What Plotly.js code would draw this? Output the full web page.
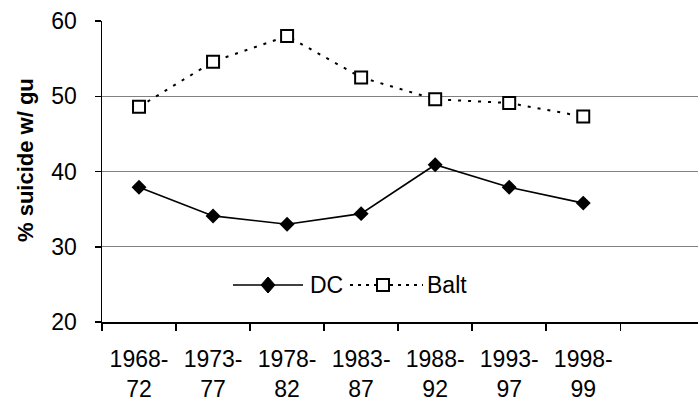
<!DOCTYPE html>
<html>
<head>
<meta charset="utf-8">
<script src="https://cdn.plot.ly/plotly-3.0.1.min.js"></script>
<style>html,body{margin:0;padding:0;background:#fff;}#chart{width:698px;height:408px;}</style>
</head>
<body>
<div id="chart"></div>
<script>
// ---- data ----
const periods = ["1968-<br>72", "1973-<br>77", "1978-<br>82", "1983-<br>87", "1988-<br>92", "1993-<br>97", "1998-<br>99"];
const dcValues = [37.9, 34.1, 33.0, 34.4, 40.9, 37.9, 35.8];
const baltValues = [48.6, 54.6, 58.0, 52.5, 49.6, 49.1, 47.3];
const seriesNames = ["DC", "Balt"];
const yTicks = [20, 30, 40, 50, 60];
const yTitle = "% suicide w/ gu";

// ---- layout helpers ----
const idx = periods.map((_, i) => i);
const boundaries = periods.concat([""]).map((_, i) => i - 0.5);
const xRange = [-0.5, 7.55];
const FONT = "Liberation Sans, Arial, sans-serif";

const traces = [
  {
    x: idx, y: dcValues, name: seriesNames[0], type: "scatter", mode: "lines+markers",
    line: {color: "#000", width: 1.6},
    marker: {symbol: "diamond", size: 11.5, color: "#000"},
    showlegend: false, hoverinfo: "skip"
  },
  {
    x: idx, y: baltValues, name: seriesNames[1], type: "scatter", mode: "lines+markers",
    line: {color: "#000", width: 2, dash: "3px,7px"},
    marker: {symbol: "square", size: 12, color: "#fff", line: {color: "#000", width: 2}},
    showlegend: false, hoverinfo: "skip"
  },
  { x: [], y: [], xaxis: "x2", yaxis: "y", showlegend: false, hoverinfo: "skip" }
];

// manual legend (paper coords)
const px = v => (v - 102) / 596;
const py = v => (322 - v) / 301;
const legY = py(285);
const shapes = [
  {type: "line", xref: "paper", yref: "paper", x0: px(233), x1: px(303), y0: legY, y1: legY, line: {color: "#000", width: 1.6}},
  {type: "path", xref: "paper", yref: "paper",
   path: `M ${px(268 - 7)} ${legY} L ${px(268)} ${py(285 - 8)} L ${px(268 + 7)} ${legY} L ${px(268)} ${py(285 + 8)} Z`,
   fillcolor: "#000", line: {color: "#000", width: 1}},
  {type: "line", xref: "paper", yref: "paper", x0: px(350), x1: px(423), y0: legY, y1: legY, line: {color: "#000", width: 2, dash: "3px,5px"}},
  {type: "rect", xref: "paper", yref: "paper", x0: px(383 - 6), x1: px(383 + 6), y0: py(285 + 6), y1: py(285 - 6),
   fillcolor: "#fff", line: {color: "#000", width: 2}}
];

const annotations = [
  {text: seriesNames[0], xref: "paper", yref: "paper", x: px(308), y: legY, xanchor: "left", yanchor: "middle", showarrow: false,
   font: {family: FONT, size: 23, color: "#000"}},
  {text: seriesNames[1], xref: "paper", yref: "paper", x: px(425), y: legY, xanchor: "left", yanchor: "middle", showarrow: false,
   font: {family: FONT, size: 23, color: "#000"}},
  {text: "<b>" + yTitle + "</b>", xref: "paper", yref: "paper", x: px(25), y: py(160), xanchor: "center", yanchor: "middle",
   textangle: -90, showarrow: false, font: {family: FONT, size: 22, color: "#000"}}
];

const layout = {
  width: 698, height: 408,
  margin: {l: 102, r: 0, t: 21, b: 86, pad: 0},
  paper_bgcolor: "#fff", plot_bgcolor: "#fff",
  font: {family: FONT, size: 23, color: "#000"},
  showlegend: false,
  xaxis: {
    type: "linear", range: xRange, tickvals: idx, ticktext: periods, ticks: "",
    showgrid: false, zeroline: false, showline: true, linecolor: "#000", linewidth: 2,
    tickfont: {family: FONT, size: 23, color: "#000"}, ticklabelstandoff: 15
  },
  xaxis2: {
    type: "linear", overlaying: "x", anchor: "y", side: "bottom", range: xRange,
    tickvals: boundaries, showticklabels: false, ticks: "outside", ticklen: 8, tickwidth: 1.5, tickcolor: "#000",
    showgrid: false, zeroline: false, showline: false
  },
  yaxis: {
    range: [20, 60], tickvals: yTicks, ticks: "outside", ticklen: 6, tickwidth: 1.5, tickcolor: "#000",
    showgrid: true, gridcolor: "#808080", gridwidth: 1, zeroline: false,
    showline: true, linecolor: "#000", linewidth: 1.5,
    tickfont: {family: FONT, size: 23, color: "#000"}, ticklabelstandoff: 13
  },
  shapes: shapes,
  annotations: annotations
};

Plotly.newPlot("chart", traces, layout, {staticPlot: true, displayModeBar: false});
</script>
</body>
</html>
